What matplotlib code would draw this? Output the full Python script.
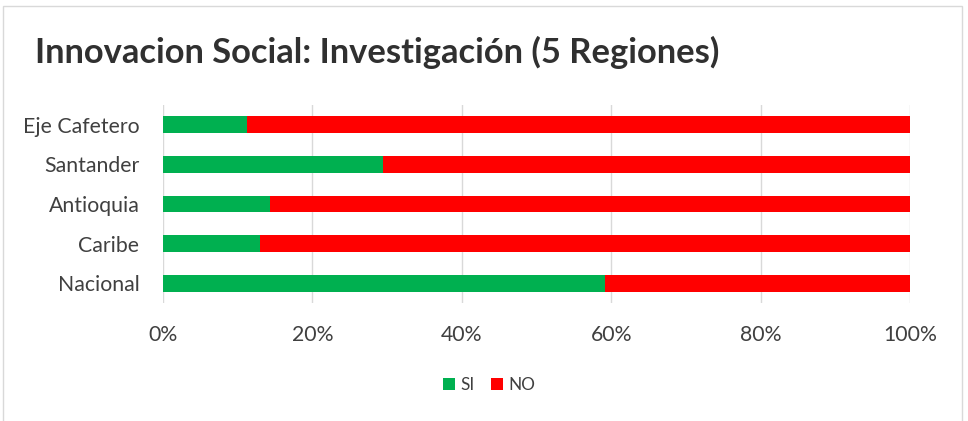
import matplotlib.pyplot as plt
from matplotlib.patches import Rectangle
from matplotlib.ticker import PercentFormatter

# data (share of SI, rest is NO)
regiones = ['Nacional', 'Caribe', 'Antioquia', 'Santander', 'Eje Cafetero']
si = [59.2, 13.0, 14.3, 29.5, 11.3]
no = [100 - v for v in si]

verde = '#00B050'
rojo = '#FF0000'
gris_texto = '#404040'

plt.rcParams['font.family'] = ['Lato', 'DejaVu Sans']

fig = plt.figure(figsize=(9.68, 4.21), dpi=100)
W, H = 968, 421

# chart frame
fig.patches.append(Rectangle((3 / W, -0.1), 959 / W, 1 - 6 / H + 0.1,
                             transform=fig.transFigure, fill=False,
                             edgecolor='#D9D9D9', linewidth=1))

ax = fig.add_axes([163 / W, 1 - 303 / H, 747 / W, 198 / H])

y = range(len(regiones))
ax.barh(y, si, height=0.42, color=verde, label='SI', zorder=3)
ax.barh(y, no, left=si, height=0.42, color=rojo, label='NO', zorder=3)

ax.set_xlim(0, 100)
ax.set_ylim(-0.5, len(regiones) - 0.5)
ax.set_yticks(list(y))
ax.set_yticklabels(regiones)
ax.set_xticks([0, 20, 40, 60, 80, 100])
ax.xaxis.set_major_formatter(PercentFormatter(decimals=0))
ax.grid(axis='x', color='#D9D9D9', linewidth=1, zorder=0)
for s in ax.spines.values():
    s.set_visible(False)
ax.tick_params(length=0, labelsize=15.3, colors=gris_texto)
ax.tick_params(axis='x', pad=16)
ax.tick_params(axis='y', pad=17)

fig.text(35 / W, 1 - 52 / H, 'Innovacion Social: Investigación (5 Regiones)',
         fontsize=24.8, fontweight='bold', color='#303030', va='center')

fig.legend(loc='center', bbox_to_anchor=(489 / W, 1 - 385 / H), ncol=2,
           frameon=False, fontsize=12.3, handlelength=0.7, handleheight=0.7,
           handletextpad=0.3, columnspacing=1.0, labelcolor=gris_texto)

fig.savefig('out.png', dpi=100)
